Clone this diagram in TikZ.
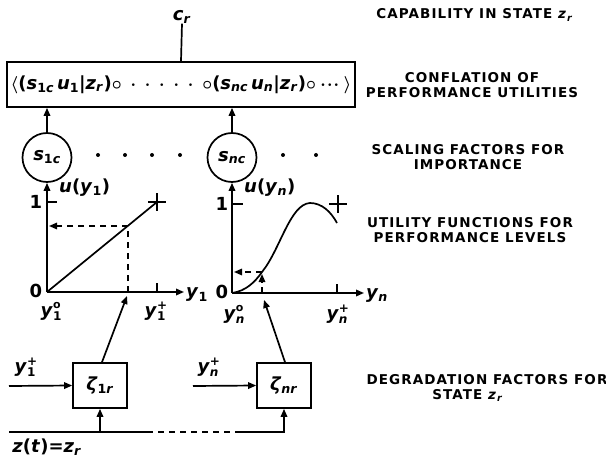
\documentclass[tikz,border=0pt]{standalone}
\usepackage{fontspec}
\setmainfont{DejaVu Sans}
\newfontfamily\capsfont[LetterSpace=8]{DejaVu Sans}
\usetikzlibrary{arrows.meta}

\newcommand\iv[1]{\textit{#1}}
\newcommand\sbs[1]{\textsubscript{#1}}
\newcommand\ysp[2]{\textit{y}\rlap{\raisebox{7.5pt}{\fontsize{12}{12}\selectfont #1}}\raisebox{-4pt}{\fontsize{12}{12}\selectfont #2}}
\newcommand\yo[1]{\textit{y}\rlap{\raisebox{8pt}{\fontsize{11}{11}\selectfont o}}\raisebox{-4pt}{\fontsize{12}{12}\selectfont #1}}

\tikzset{
  ln/.style={line width=1.7pt},
  tipA/.style={-{Triangle[length=8pt,width=6.5pt]}},
  arr/.style={ln,tipA},
  dsh/.style={line width=1.5pt, dash pattern=on 6pt off 5pt},
  lab/.style={font=\capsfont\bfseries\fontsize{13.5}{15.5}\selectfont, align=center, inner sep=0pt},
  mth/.style={font=\bfseries\boldmath\fontsize{18}{22}\selectfont, inner sep=0pt},
  circ/.style={draw, ln, circle, minimum size=49pt, inner sep=0pt},
  zbox/.style={draw, ln, minimum width=54pt, minimum height=45pt, inner sep=0pt},
}

\begin{document}
\begin{tikzpicture}[x=1pt,y=-1pt]
\useasboundingbox (0,0) rectangle (606,460);
% conflation
\node[mth] (cr) at (182,17) {\iv{c}\sbs{\iv{r}}};
\node[draw, ln, mth, minimum width=348pt, minimum height=45pt] (conf) at (181,84.5)
  {$\big\langle$(\iv{s}\sbs{1\iv{c}}\,\iv{u}\sbs{1}|\iv{z}\sbs{\iv{r}})$\circ\:\cdot\:\cdot\:\cdot\:\cdot\:\cdot\:\circ$(\iv{s}\sbs{\iv{nc}}\,\iv{u}\sbs{\iv{n}}|\iv{z}\sbs{\iv{r}})$\circ\cdot\!\cdot\!\cdot\big\rangle$};
\draw[ln] (conf.north) -- (cr.south);
% scaling
\node[circ, mth] (s1) at (47,157.5) {\iv{s}\sbs{1\iv{c}}};
\node[circ, mth] (sn) at (232,157.5) {\iv{s}\sbs{\iv{nc}}};
\draw[arr] (s1.north) -- (s1.north |- conf.south);
\draw[arr] (sn.north) -- (sn.north |- conf.south);
\foreach \x in {98,125,152,180,283,316} \fill (\x,155) circle (2pt);
% graph 1
\coordinate (o1) at (47,292);
\coordinate (x1) at (184,292);
\coordinate (p1) at (157,202);
\coordinate (q1) at (128,226);
\draw[arr] (o1) -- (s1.south);
\draw[arr] (o1) -- (x1);
\draw[ln] (47,202) -- (57,202);
\draw[ln] (157,292) -- (157,283);
\draw[ln] (o1) -- (p1);
\draw[ln] (148,202) -- (166,202) (157,193) -- (157,211);
\draw[dsh] (128,292) -- (q1);
\draw[dsh, tipA] (q1) -- (49,226);
\node[mth] (zero1) at (36,291) {0};
\node[mth] (one1) at (36,202) {1};
\node[mth, anchor=west] (u1) at (59,188) {\iv{u}(\iv{y}\sbs{1})};
\node[mth] (y1) at (197,295) {\iv{y}\sbs{1}};
\node[mth] (y1o) at (51,311) {\yo{1}};
\node[mth] (y1p) at (155,311) {\ysp{+}{1}};
% graph 2
\coordinate (o2) at (232,293);
\coordinate (x2) at (364,293);
\coordinate (q2) at (262,272);
\draw[arr] (o2) -- (sn.south);
\draw[arr] (o2) -- (x2);
\draw[ln] (232,204) -- (243,204);
\draw[ln] (337,293) -- (337,284);
\draw[ln] (o2) .. controls (246,291) and (255,282) .. (q2)
  .. controls (280,250) and (290,204) .. (310,203)
  .. controls (322,203) and (331,212) .. (337,223);
\draw[ln] (329,204) -- (347,204) (338,195) -- (338,213);
\draw[dsh, tipA] (262,293) -- (262,274);
\draw[dsh, tipA] (q2) -- (234,272);
\node[mth] (zero2) at (222,292) {0};
\node[mth] (one2) at (222,204) {1};
\node[mth, anchor=west] (un) at (244,188) {\iv{u}(\iv{y}\sbs{\iv{n}})};
\node[mth] (yn) at (377,296) {\iv{y}\sbs{\iv{n}}};
\node[mth] (yno) at (234,314) {\yo{\iv{n}}};
\node[mth] (ynp) at (337,314) {\ysp{+}{\iv{n}}};
% degradation
\node[zbox, mth] (z1) at (100,385.5) {\iv{ζ}\sbs{1\iv{r}}};
\node[zbox, mth] (zn) at (284,385.5) {\iv{ζ}\sbs{\iv{nr}}};
\coordinate (t1) at (127,296);
\coordinate (t2) at (264,300);
\draw[arr] ([xshift=2pt]z1.north) -- (t1);
\draw[arr] ([xshift=1pt]zn.north) -- (t2);
\coordinate (in1) at (9,386);
\coordinate (inn) at (193,386);
\draw[arr] (in1) -- (z1.west);
\draw[arr] (inn) -- (zn.west);
\node[mth] (y1in) at (25,367) {\ysp{+}{1}};
\node[mth] (ynin) at (208,367) {\ysp{+}{\iv{n}}};
\coordinate (zs) at (9,432);
\coordinate (d1) at (147,432);
\coordinate (d2) at (238,432);
\draw[ln] (zs) -- (d1);
\draw[dsh] (d1) -- (d2);
\draw[arr] (d2) -| (zn.south);
\draw[arr] (z1.south |- zs) -- (z1.south);
\node[mth] (zt) at (47,447) {\iv{z}(\iv{t})=\iv{z}\sbs{\iv{r}}};
% right labels
\node[lab] (capl) at (475,15) {CAPABILITY IN STATE \iv{z}\sbs{\iv{r}}};
\node[lab] (confl) at (472,85) {CONFLATION OF\\PERFORMANCE UTILITIES};
\node[lab] (scl) at (468,157) {SCALING FACTORS FOR\\IMPORTANCE};
\node[lab] (utl) at (470,230) {UTILITY FUNCTIONS FOR\\PERFORMANCE LEVELS};
\node[lab] (dgl) at (487,388) {DEGRADATION FACTORS FOR\\STATE \iv{z}\sbs{\iv{r}}\hspace*{38pt}};
\end{tikzpicture}
\end{document}
